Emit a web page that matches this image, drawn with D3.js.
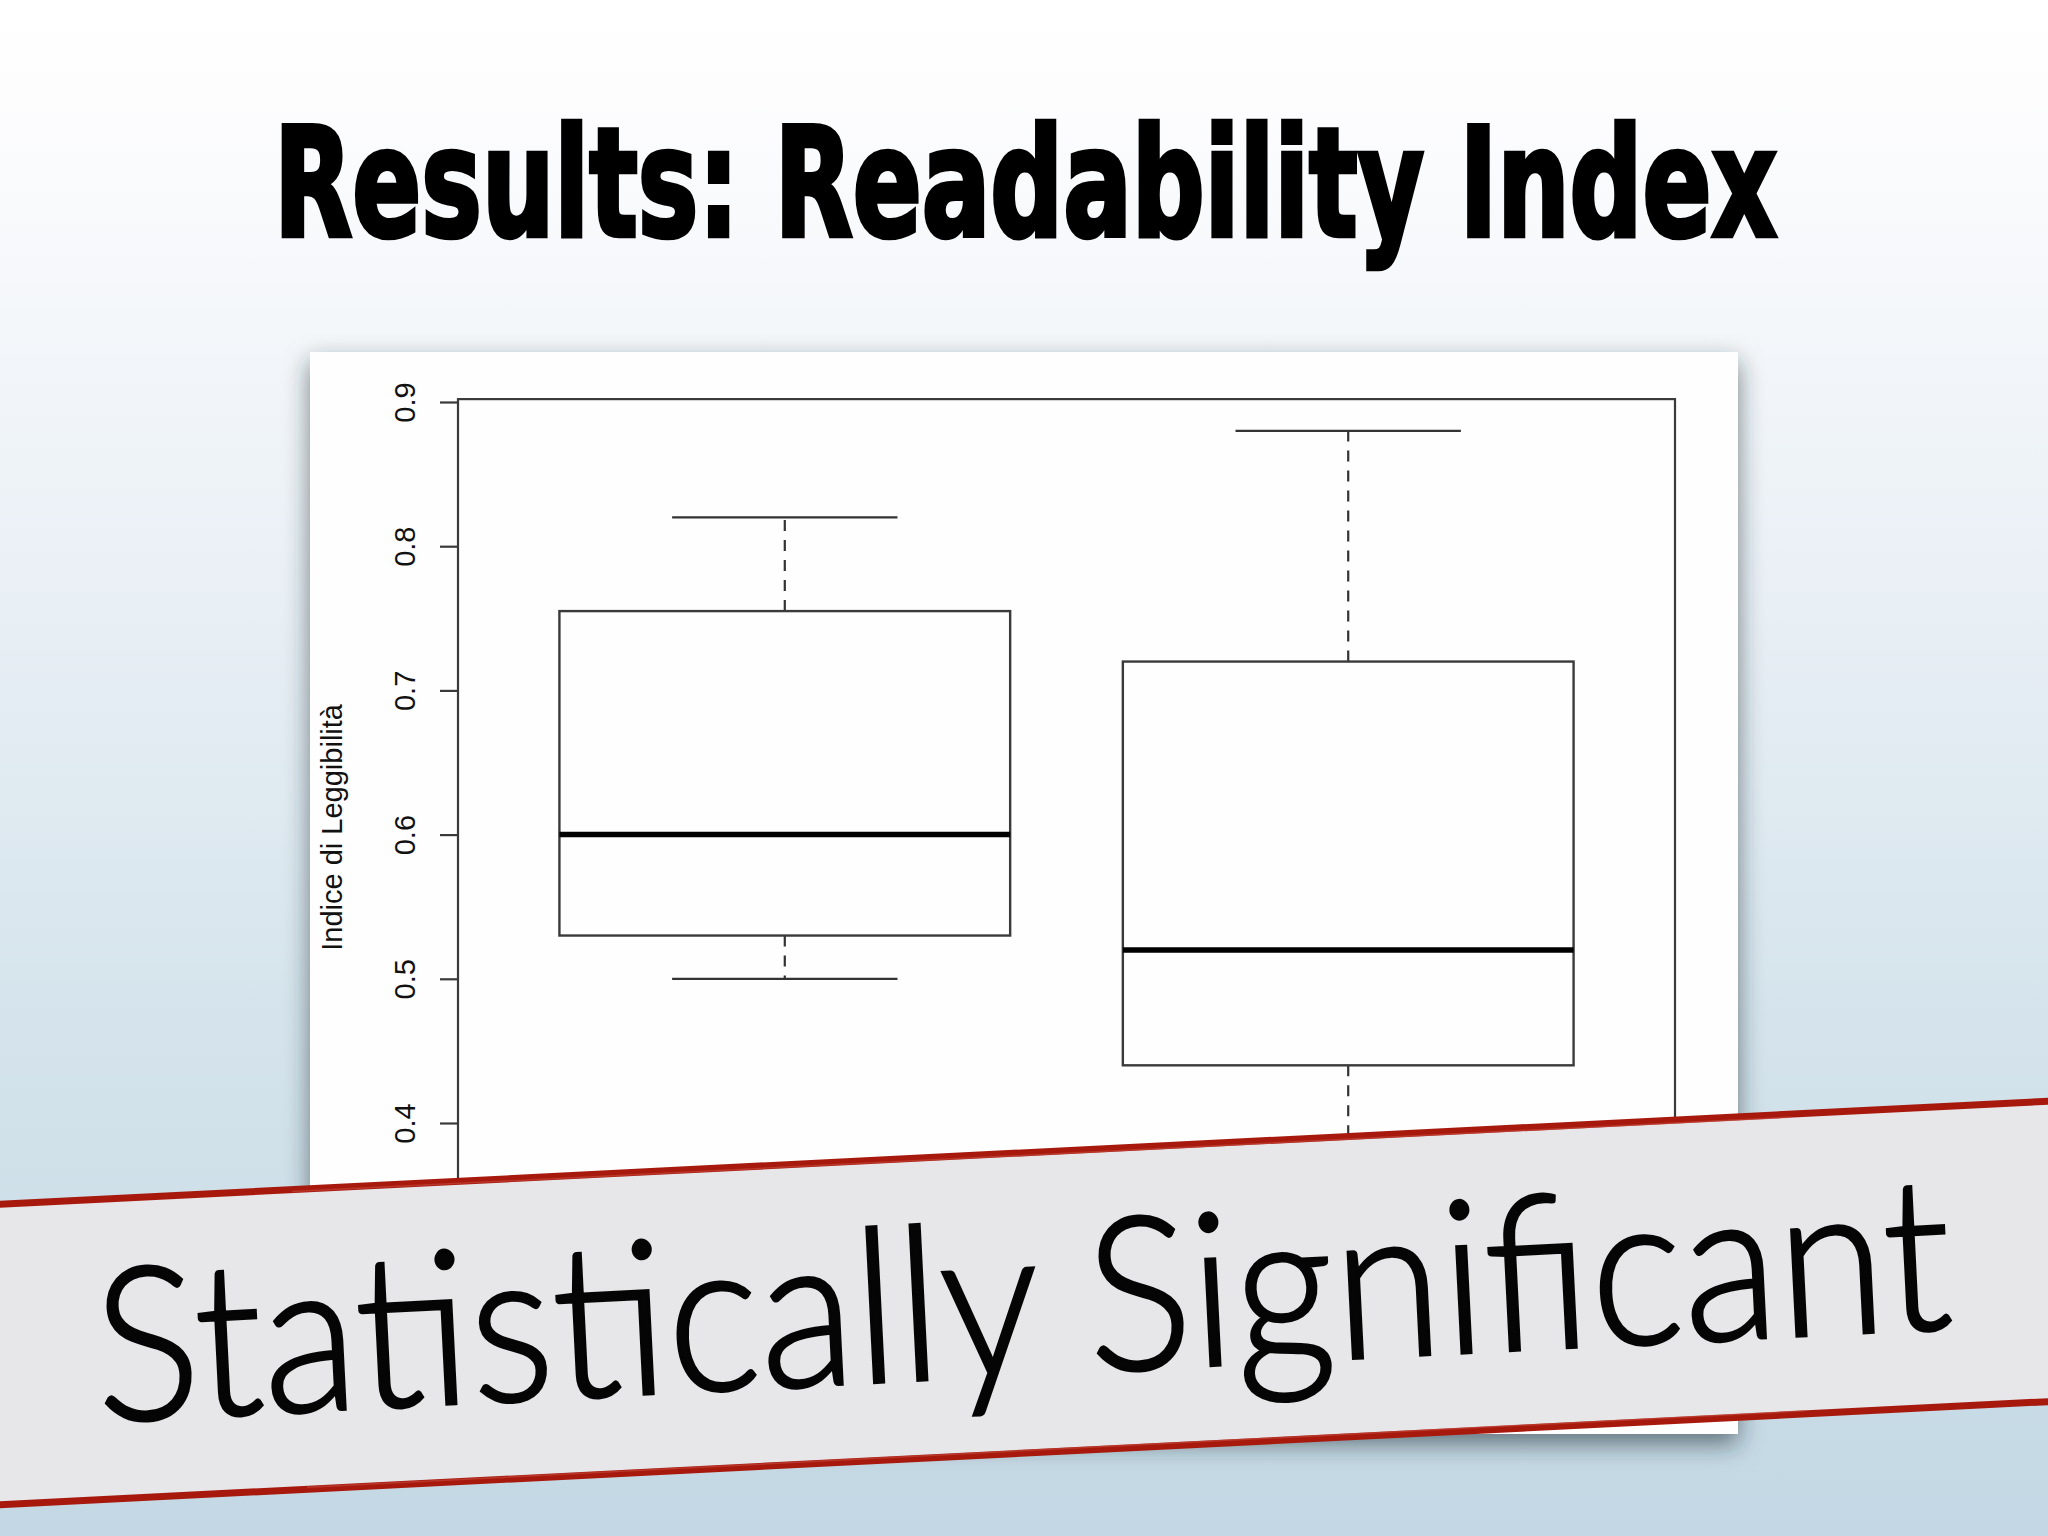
<!DOCTYPE html>
<html>
<head>
<meta charset="utf-8">
<script src="https://cdnjs.cloudflare.com/ajax/libs/d3/7.8.5/d3.min.js"></script>
<style>
  html, body { margin: 0; padding: 0; overflow: hidden; }
  body { width: 2048px; height: 1536px; }
</style>
</head>
<body>
<div id="chart"></div>
<script>
// data
const groups = [1, 2];
const whiskerLow = [0.50, 0.33];
const q1 = [0.53, 0.44];
const medians = [0.60, 0.52];
const q3 = [0.755, 0.72];
const whiskerHigh = [0.82, 0.88];
const yTicks = [0.4, 0.5, 0.6, 0.7, 0.8, 0.9];
const yLim = [0.308, 0.902];
const xLim = [0.42, 2.58];

const titleText = "Results: Readability Index";
const yLabel = "Indice di Leggibilità";
const bannerText = "Statistically Significant";

const W = 2048, H = 1536;

const svg = d3.select("#chart")
  .append("svg")
    .attr("width", W)
    .attr("height", H);

const defs = svg.append("defs");

let bg = defs.append("linearGradient")
    .attr("id", "bg")
    .attr("x1", 0).attr("y1", 0).attr("x2", 0).attr("y2", 1);
bg.append("stop").attr("offset", "0%").attr("stop-color", "#ffffff");
bg.append("stop").attr("offset", "6%").attr("stop-color", "#fdfdfe");
bg.append("stop").attr("offset", "40%").attr("stop-color", "#e8eff5");
bg.append("stop").attr("offset", "66%").attr("stop-color", "#d5e4ec");
bg.append("stop").attr("offset", "100%").attr("stop-color", "#c3d8e4");

let shadow = defs.append("filter")
    .attr("id", "shadow")
    .attr("x", "-10%").attr("y", "-10%")
    .attr("width", "120%").attr("height", "125%");
shadow.append("feDropShadow")
    .attr("dx", 0).attr("dy", 10)
    .attr("stdDeviation", 12)
    .attr("flood-color", "#1c2a33")
    .attr("flood-opacity", 0.6);

svg.append("rect")
    .attr("width", W).attr("height", H)
    .attr("fill", "url(#bg)");

// title
svg.append("text")
    .attr("x", 274)
    .attr("y", 236)
    .attr("textLength", 1503)
    .attr("lengthAdjust", "spacingAndGlyphs")
    .style("font-family", "Impact, 'Liberation Sans Narrow', 'DejaVu Sans Condensed', 'DejaVu Sans', sans-serif")
    .style("font-weight", "bold")
    .style("font-size", "152px")
    .style("fill", "#000")
    .style("stroke", "#000")
    .style("stroke-width", 4.5)
    .style("stroke-linejoin", "miter")
    .text(titleText);

// the pasted R figure
svg.append("rect")
    .attr("x", 310).attr("y", 352)
    .attr("width", 1428).attr("height", 1082)
    .attr("fill", "#fefefe")
    .attr("filter", "url(#shadow)");

var y = d3.scaleLinear()
    .domain([0.4, 0.9])
    .range([1123, 402]);

var x = d3.scaleLinear()
    .domain(xLim)
    .range([458, 1675]);

var plot = svg.append("g");

plot.append("rect")
    .attr("x", x(xLim[0]))
    .attr("y", y(yLim[1]))
    .attr("width", x(xLim[1]) - x(xLim[0]))
    .attr("height", y(yLim[0]) - y(yLim[1]))
    .attr("fill", "none")
    .attr("stroke", "#3a3a3a")
    .attr("stroke-width", 2.2);

var ax = plot.append("g")
    .attr("transform", "translate(" + x(xLim[0]) + ",0)")
    .call(d3.axisLeft(y).tickValues(yTicks).tickSize(18).tickFormat(d3.format(".1f")));
ax.select(".domain").remove();
ax.selectAll(".tick line").attr("stroke", "#3a3a3a").attr("stroke-width", 2.2);
ax.selectAll(".tick text")
    .attr("x", null)
    .attr("dy", null)
    .attr("transform", "translate(-43,0) rotate(-90)")
    .attr("text-anchor", "middle")
    .attr("fill", "#111")
    .style("font-family", "'Liberation Sans', Arial, Helvetica, sans-serif")
    .style("font-size", "29px");

plot.append("text")
    .attr("transform", "translate(342," + ((y(yLim[0]) + y(yLim[1])) / 2) + ") rotate(-90)")
    .attr("text-anchor", "middle")
    .style("font-family", "'Liberation Sans', Arial, Helvetica, sans-serif")
    .style("font-size", "29px")
    .style("fill", "#111")
    .text(yLabel);

const boxW = 0.8, capW = 0.4;

groups.forEach(function (g, i) {
    var bx = plot.append("g");
    // whiskers
    bx.append("line")
        .attr("x1", x(g)).attr("x2", x(g))
        .attr("y1", y(q3[i])).attr("y2", y(whiskerHigh[i]))
        .attr("stroke", "#333").attr("stroke-width", 2.2)
        .attr("stroke-dasharray", "11,9");
    bx.append("line")
        .attr("x1", x(g)).attr("x2", x(g))
        .attr("y1", y(q1[i])).attr("y2", y(whiskerLow[i]))
        .attr("stroke", "#333").attr("stroke-width", 2.2)
        .attr("stroke-dasharray", "11,9");
    [whiskerLow[i], whiskerHigh[i]].forEach(function (v) {
        bx.append("line")
            .attr("x1", x(g - capW / 2)).attr("x2", x(g + capW / 2))
            .attr("y1", y(v)).attr("y2", y(v))
            .attr("stroke", "#333").attr("stroke-width", 2.2);
    });
    bx.append("rect")
        .attr("x", x(g - boxW / 2))
        .attr("y", y(q3[i]))
        .attr("width", x(g + boxW / 2) - x(g - boxW / 2))
        .attr("height", y(q1[i]) - y(q3[i]))
        .attr("fill", "#fefefe")
        .attr("stroke", "#3a3a3a")
        .attr("stroke-width", 2.4);
    bx.append("line")
        .attr("x1", x(g - boxW / 2)).attr("x2", x(g + boxW / 2))
        .attr("y1", y(medians[i])).attr("y2", y(medians[i]))
        .attr("stroke", "#000").attr("stroke-width", 5.5);
});

// red-edged banner across the bottom
var band = svg.append("g")
    .attr("transform", "translate(0,1354.5) rotate(-2.88)");

band.append("rect")
    .attr("x", -100).attr("y", -150)
    .attr("width", 2300).attr("height", 300)
    .attr("fill", "#e7e6e9");

[-150, 150].forEach(function (yy) {
    band.append("line")
        .attr("x1", -100).attr("x2", 2200)
        .attr("y1", yy).attr("y2", yy)
        .attr("stroke", "#a8190d")
        .attr("stroke-width", 7);
    band.append("line")
        .attr("x1", 300).attr("x2", 1800)
        .attr("y1", yy + (yy < 0 ? 2 : -2)).attr("y2", yy + (yy < 0 ? 3 : -3))
        .attr("stroke", "#c44a3e")
        .attr("stroke-width", 1.5)
        .attr("opacity", 0.6);
});

band.append("text")
    .attr("x", 95)
    .attr("y", 72)
    .attr("textLength", 1858)
    .attr("lengthAdjust", "spacingAndGlyphs")
    .style("font-family", "Lato, 'Open Sans', 'Noto Sans', sans-serif")
    .style("font-weight", 300)
    .style("font-size", "214px")
    .style("fill", "#050505")
    .style("stroke", "#050505")
    .style("stroke-width", 3)
    .text(bannerText);
</script>
</body>
</html>
